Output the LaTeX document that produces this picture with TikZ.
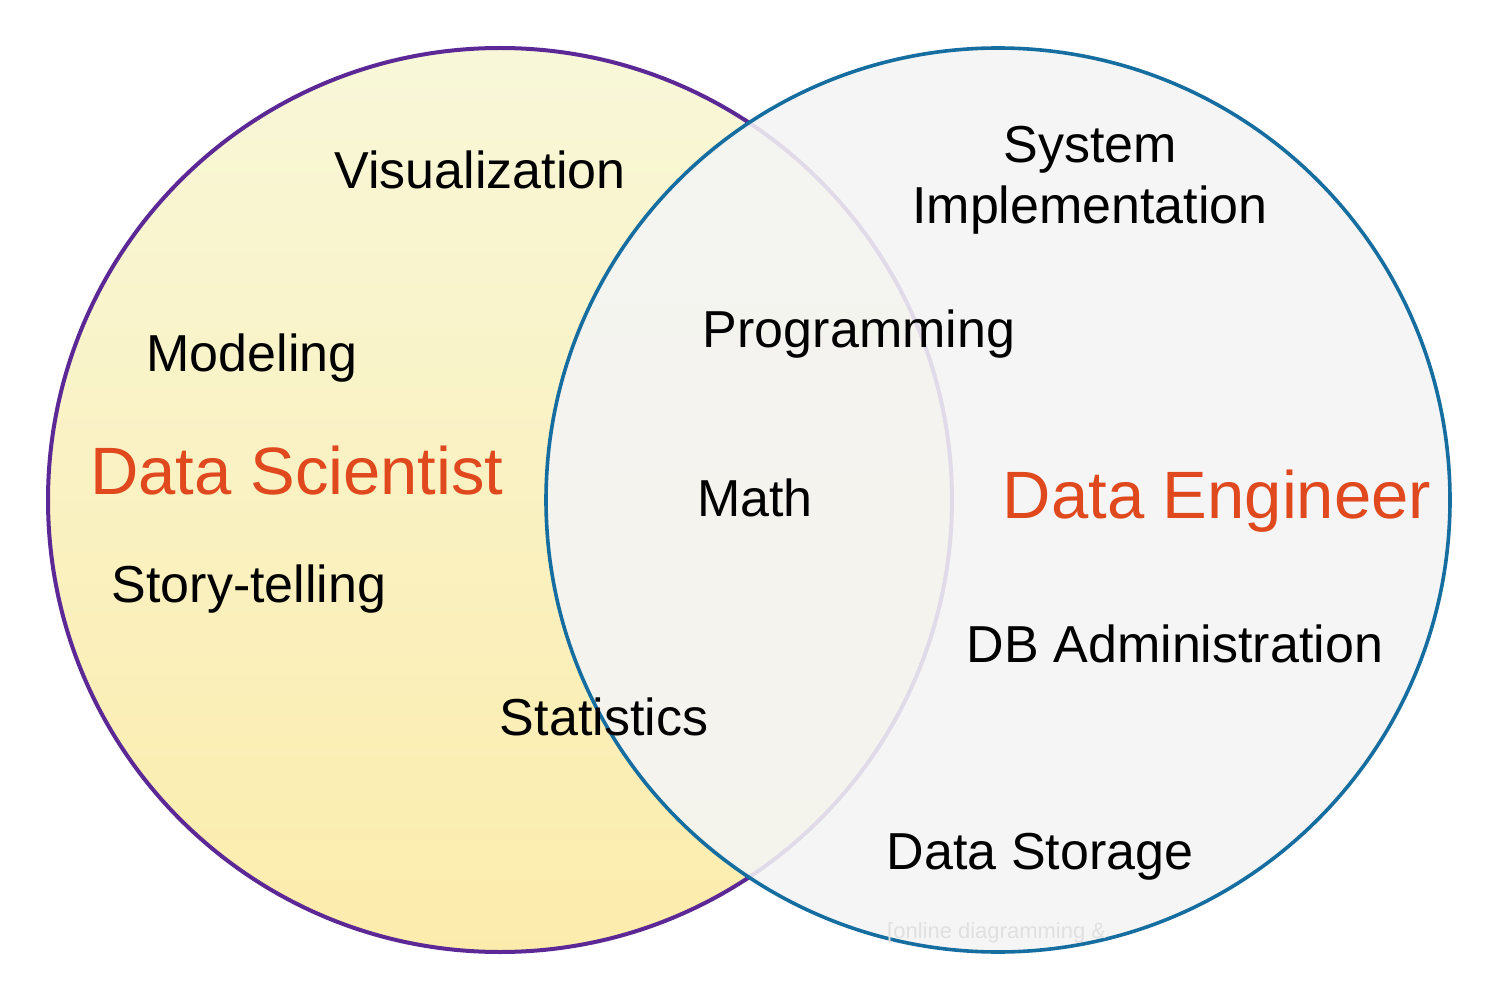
\documentclass[tikz,border=0pt]{standalone}
\usepackage{fontspec}
\setmainfont{Liberation Sans}
\definecolor{ttlred}{RGB}{224,72,30}
\definecolor{dspurple}{RGB}{92,40,150}
\definecolor{deblue}{RGB}{22,110,160}
\definecolor{ytop}{RGB}{248,247,216}
\definecolor{ybot}{RGB}{252,236,172}
\definecolor{gfill}{RGB}{244,244,245}
\begin{document}
\begin{tikzpicture}[x=1pt,y=-1pt,
  lbl/.style={anchor=base,inner sep=0pt,font=\fontsize{52}{60}\selectfont,text=black},
  ttl/.style={anchor=base,inner sep=0pt,font=\fontsize{67}{76}\selectfont,text=ttlred},
  wm/.style={anchor=base west,inner sep=0pt,font=\fontsize{22}{26}\selectfont,text=black!12}]
\useasboundingbox (0,0) rectangle (1491,1000);
\fill[white] (0,0) rectangle (1491,1000);
% left circle
\shade[top color=ytop,bottom color=ybot] (500,500) circle (452);
\draw[dspurple,line width=4] (500,500) circle (452);
% right circle
\fill[gfill,opacity=0.88] (998,500) circle (452);
\draw[deblue,line width=3.6] (998,500) circle (452);
% labels
\node[lbl] (vis) at (480,189) {Visualization};
\node[lbl] (sys) at (1090,163) {System};
\node[lbl] (imp) at (1090,224) {Implementation};
\node[lbl] (prog) at (859,347) {Programming};
\node[lbl] (mod) at (252,371) {Modeling};
\node[ttl] (ds) at (297,494) {Data Scientist};
\node[lbl] (math) at (755,516) {Math};
\node[ttl] (de) at (1217,518) {Data Engineer};
\node[lbl] (story) at (249,602) {Story-telling};
\node[lbl] (dba) at (1175,662) {DB Administration};
\node[lbl] (stat) at (604,735) {Statistics};
\node[lbl] (stor) at (1040,869) {Data Storage};
\node[wm] (wmk) at (887,938) {[online diagramming \&};
\end{tikzpicture}
\end{document}
